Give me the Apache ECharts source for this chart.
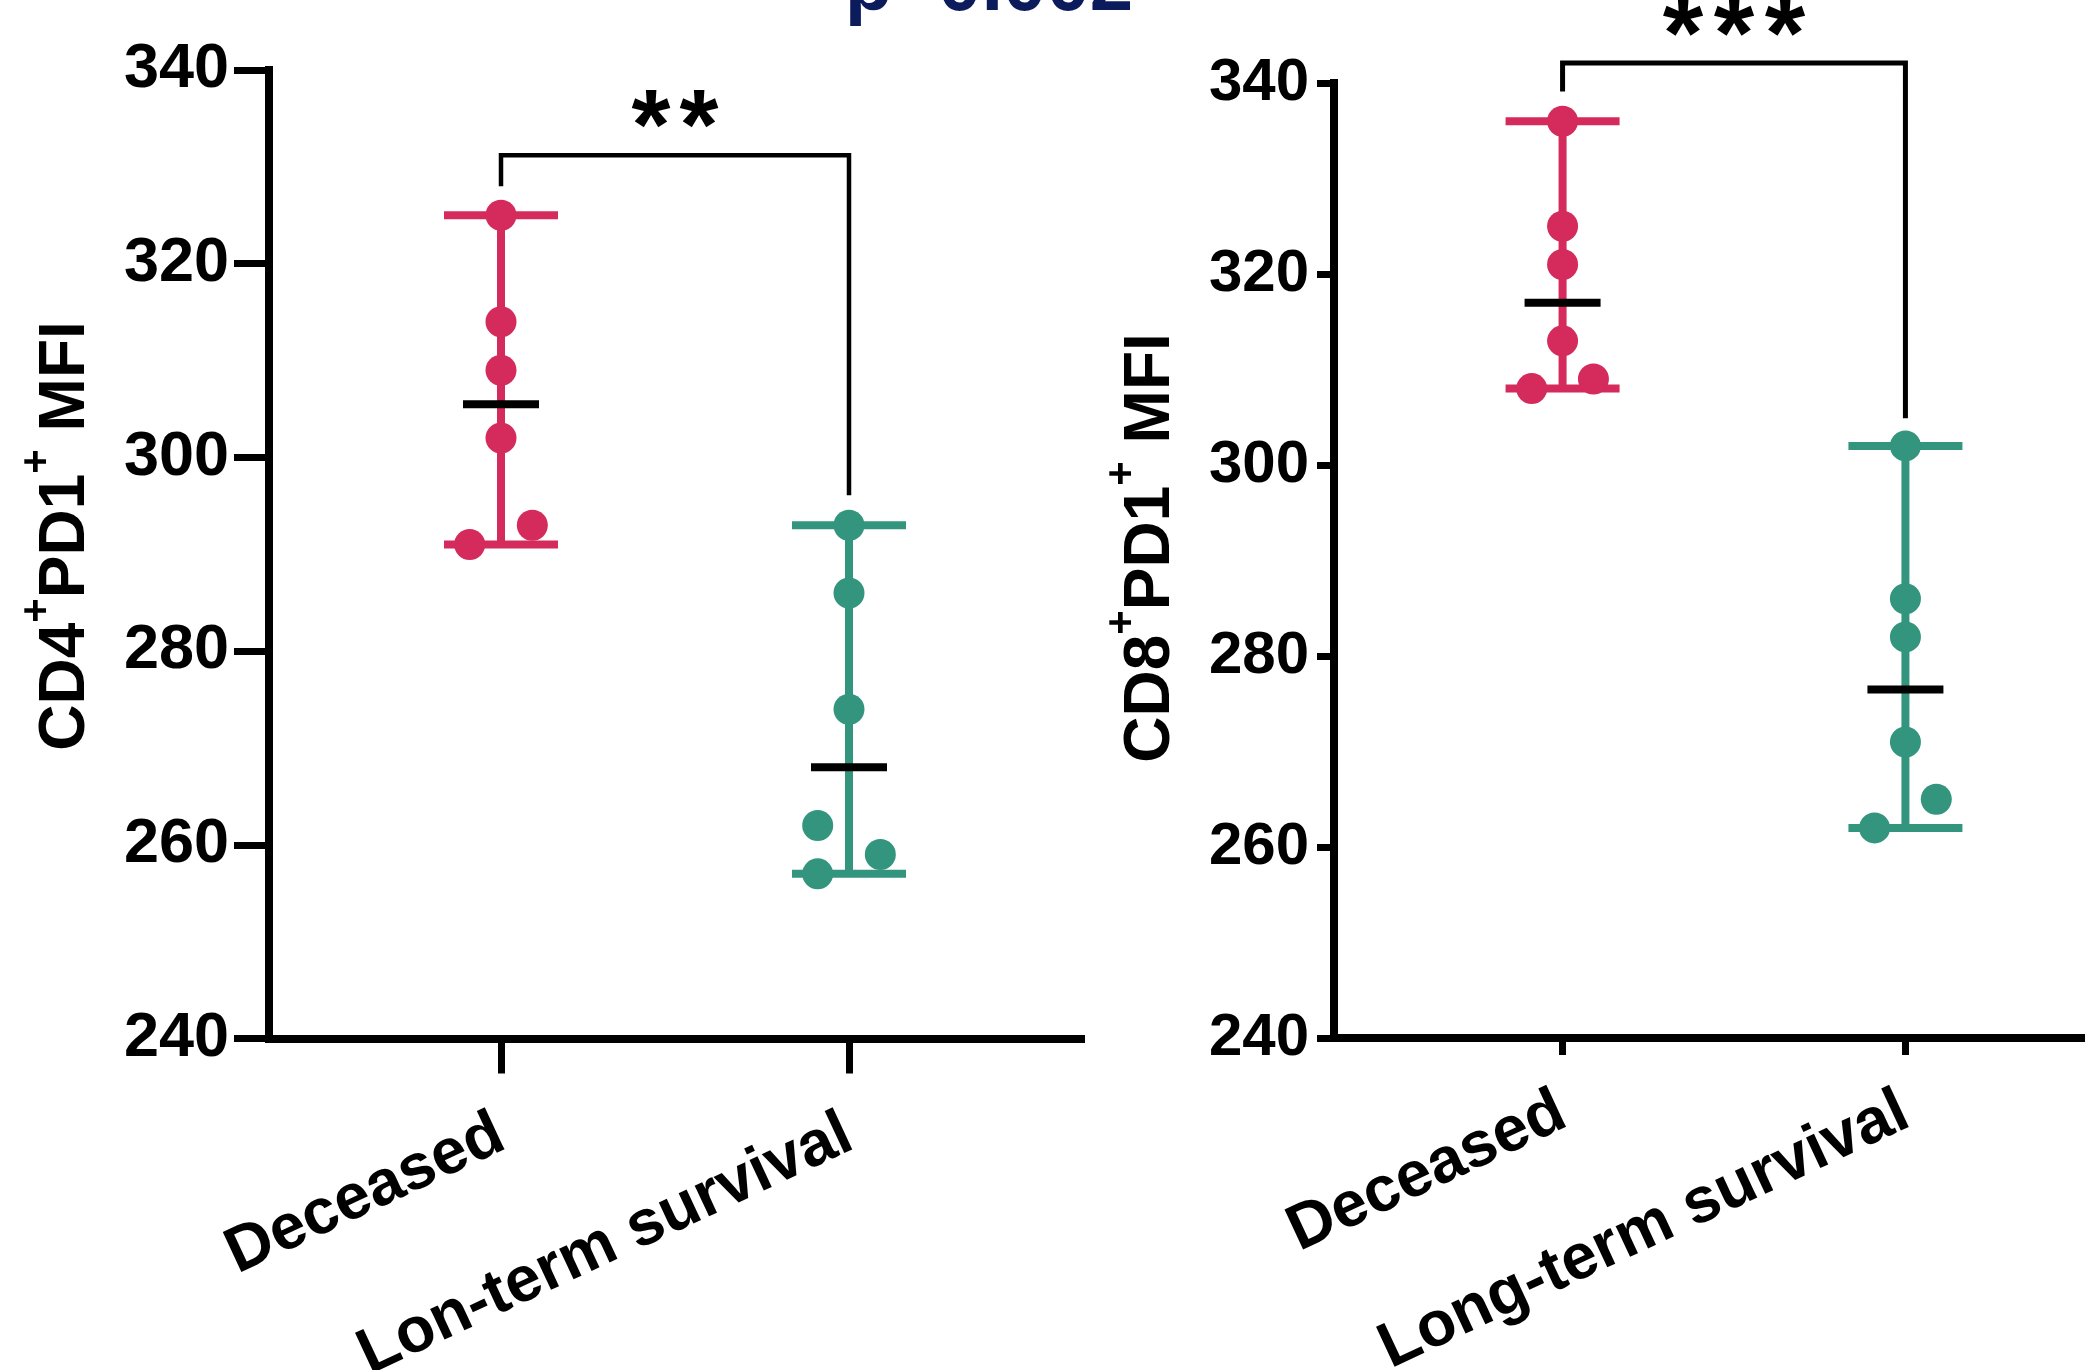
<!DOCTYPE html>
<html><head><meta charset="utf-8">
<script src="https://cdn.jsdelivr.net/npm/echarts@6/dist/echarts.min.js"></script>
<style>html,body{margin:0;padding:0;background:#fff}#c{width:2085px;height:1370px}</style>
</head><body><div id="c"></div>
<script>
// ---------- data ----------
const categoriesLeft = ['Deceased', 'Lon-term survival'];
const categoriesRight = ['Deceased', 'Long-term survival'];
const yTickMin = 240, yTickMax = 340, yTickStep = 20;

const cd4Deceased = [325, 314, 309, 302, 293, 291];
const cd4DeceasedSide = [0, 0, 0, 0, 1, -1];
const cd4Survival = [293, 286, 274, 262, 259, 257];
const cd4SurvivalSide = [0, 0, 0, -1, 1, -1];

const cd8Deceased = [336, 325, 321, 313, 309, 308];
const cd8DeceasedSide = [0, 0, 0, 0, 1, -1];
const cd8Survival = [302, 286, 282, 271, 265, 262];
const cd8SurvivalSide = [0, 0, 0, 0, 1, -1];

// significance bracket: [top, left leg end, right leg end, star level]
const sigLeft = [331.2, 328.0, 296.1, 336.1];
const sigLeftText = '**';
const sigRight = [342.1, 339.1, 304.9, 347.1];
const sigRightText = '***';

const yTitleLeft = ['CD4', '+', 'PD1', '+', ' MFI'];
const yTitleRight = ['CD8', '+', 'PD1', '+', ' MFI'];
const topNote = 'p=0.002';

// ---------- style ----------
const FONT = 'Liberation Sans';
const RED = '#D42A5C', GREEN = '#33957E';
const JIT = 0.09;

function median(a) {
  const s = [...a].sort((p, q) => p - q); const n = s.length;
  return n % 2 ? s[(n - 1) / 2] : (s[n / 2 - 1] + s[n / 2]) / 2;
}

function rangeRender(colors) {
  return function (params, api) {
    const x = api.value(0), lo = api.value(1), hi = api.value(2), med = api.value(3);
    const pT = api.coord([x, hi]), pB = api.coord([x, lo]), pM = api.coord([x, med]);
    const c = colors[params.dataIndex];
    const cap = 57, mh = 38, lw = 8;
    return { type: 'group', children: [
      { type: 'line', shape: { x1: pT[0], y1: pT[1], x2: pB[0], y2: pB[1] }, style: { stroke: c, lineWidth: lw } },
      { type: 'line', shape: { x1: pT[0] - cap, y1: pT[1], x2: pT[0] + cap, y2: pT[1] }, style: { stroke: c, lineWidth: lw } },
      { type: 'line', shape: { x1: pB[0] - cap, y1: pB[1], x2: pB[0] + cap, y2: pB[1] }, style: { stroke: c, lineWidth: lw } },
      { type: 'line', shape: { x1: pM[0] - mh, y1: pM[1], x2: pM[0] + mh, y2: pM[1] }, style: { stroke: '#000', lineWidth: lw } }
    ]};
  };
}

function bracketRender(text, fs, pitch, lw) {
  return function (params, api) {
    const top = api.value(0), le = api.value(1), re = api.value(2), ty = api.value(3);
    const a = api.coord([1, le]), b = api.coord([1, top]), c = api.coord([2, top]), d = api.coord([2, re]);
    const t = api.coord([1.5, ty]);
    const tokens = text.split('').map(() => '{a|*}').join('');
    return { type: 'group', children: [
      { type: 'polyline', shape: { points: [a, b, c, d] }, style: { stroke: '#000', lineWidth: lw, fill: null } },
      { type: 'text', x: t[0], y: t[1] + 0.24 * fs, style: {
          text: tokens, align: 'center', verticalAlign: 'middle',
          rich: { a: { width: pitch, align: 'center', fontSize: fs, fontWeight: 'bold', fontFamily: FONT, fill: '#000' } }
      } }
    ]};
  };
}

function xAxisCfg(i, cats, tickLen, margin, fs) {
  return {
    gridIndex: i, type: 'value', min: 1 / 3, max: 8 / 3,
    axisLine: { show: true, onZero: false, lineStyle: { color: '#000', width: 8, cap: 'square' } },
    axisTick: { show: true, customValues: [1, 2], length: tickLen, lineStyle: { color: '#000', width: 7 } },
    axisLabel: { customValues: [1, 2], formatter: v => cats[Math.round(v) - 1], rotate: 25, margin: margin,
      fontSize: fs, fontWeight: 'bold', fontFamily: FONT, color: '#000' },
    splitLine: { show: false }
  };
}
function yAxisCfg(i, tickLen, margin, fs) {
  return {
    gridIndex: i, type: 'value', min: yTickMin, max: yTickMax, interval: yTickStep,
    axisLine: { show: true, onZero: false, lineStyle: { color: '#000', width: 8, cap: 'square' } },
    axisTick: { show: true, length: tickLen, lineStyle: { color: '#000', width: 7 } },
    axisLabel: { margin: margin, fontSize: fs, fontWeight: 'bold', fontFamily: FONT, color: '#000' },
    splitLine: { show: false }
  };
}

function pointSeries(i, k, vals, sides, color) {
  return { type: 'scatter', xAxisIndex: i, yAxisIndex: i, z: 4, symbol: 'circle', symbolSize: 31,
    itemStyle: { color: color, opacity: 1 },
    data: vals.map((v, j) => [k + sides[j] * JIT, v]) };
}

function titleText(parts, x, y) {
  const s = parts.map((p, j) => (j % 2 ? '{s|' : '{m|') + p + '}').join('');
  return { type: 'text', x: x, y: y, rotation: Math.PI / 2, style: {
    text: s, align: 'center', verticalAlign: 'middle',
    rich: {
      m: { fontSize: 64, fontWeight: 'bold', fontFamily: FONT, fill: '#000', lineHeight: 100 },
      s: { fontSize: 42, fontWeight: 'bold', fontFamily: FONT, fill: '#000', verticalAlign: 'top' }
    }
  } };
}

const groupsL = [cd4Deceased, cd4Survival];
const groupsR = [cd8Deceased, cd8Survival];

const option = {
  animation: false,
  backgroundColor: '#fff',
  grid: [
    { left: 269, top: 70, width: 812, height: 968.5, outerBoundsMode: 'none', containLabel: false },
    { left: 1334, top: 83, width: 800, height: 955, outerBoundsMode: 'none', containLabel: false }
  ],
  xAxis: [xAxisCfg(0, categoriesLeft, 35, 93, 64), xAxisCfg(1, categoriesRight, 17, 71, 64)],
  yAxis: [yAxisCfg(0, 35, 40, 63), yAxisCfg(1, 17, 25, 60)],
  graphic: [
    { type: 'text', x: 989, y: -12, style: { text: topNote, fill: '#0b1b5c', fontSize: 78, fontWeight: 'bold', fontFamily: FONT, align: 'center', verticalAlign: 'middle' } },
    titleText(yTitleLeft, 66.5, 536),
    titleText(yTitleRight, 1151.5, 548)
  ],
  series: [
    { type: 'custom', xAxisIndex: 0, yAxisIndex: 0, z: 2, renderItem: rangeRender([RED, GREEN]),
      encode: { x: 0, y: [1, 2, 3] },
      data: groupsL.map((g, k) => [k + 1, Math.min(...g), Math.max(...g), median(g)]) },
    pointSeries(0, 1, cd4Deceased, cd4DeceasedSide, RED),
    pointSeries(0, 2, cd4Survival, cd4SurvivalSide, GREEN),
    { type: 'custom', xAxisIndex: 0, yAxisIndex: 0, z: 2, renderItem: bracketRender(sigLeftText, 100, 48, 4.5),
      encode: { y: [0, 1, 2, 3] }, data: [sigLeft] },

    { type: 'custom', xAxisIndex: 1, yAxisIndex: 1, z: 2, renderItem: rangeRender([RED, GREEN]),
      encode: { x: 0, y: [1, 2, 3] },
      data: groupsR.map((g, k) => [k + 1, Math.min(...g), Math.max(...g), median(g)]) },
    pointSeries(1, 1, cd8Deceased, cd8DeceasedSide, RED),
    pointSeries(1, 2, cd8Survival, cd8SurvivalSide, GREEN),
    { type: 'custom', xAxisIndex: 1, yAxisIndex: 1, z: 2, renderItem: bracketRender(sigRightText, 104, 51, 5),
      encode: { y: [0, 1, 2, 3] }, data: [sigRight] }
  ]
};

const chart = echarts.init(document.getElementById('c'));
chart.setOption(option);
</script>
</body></html>
